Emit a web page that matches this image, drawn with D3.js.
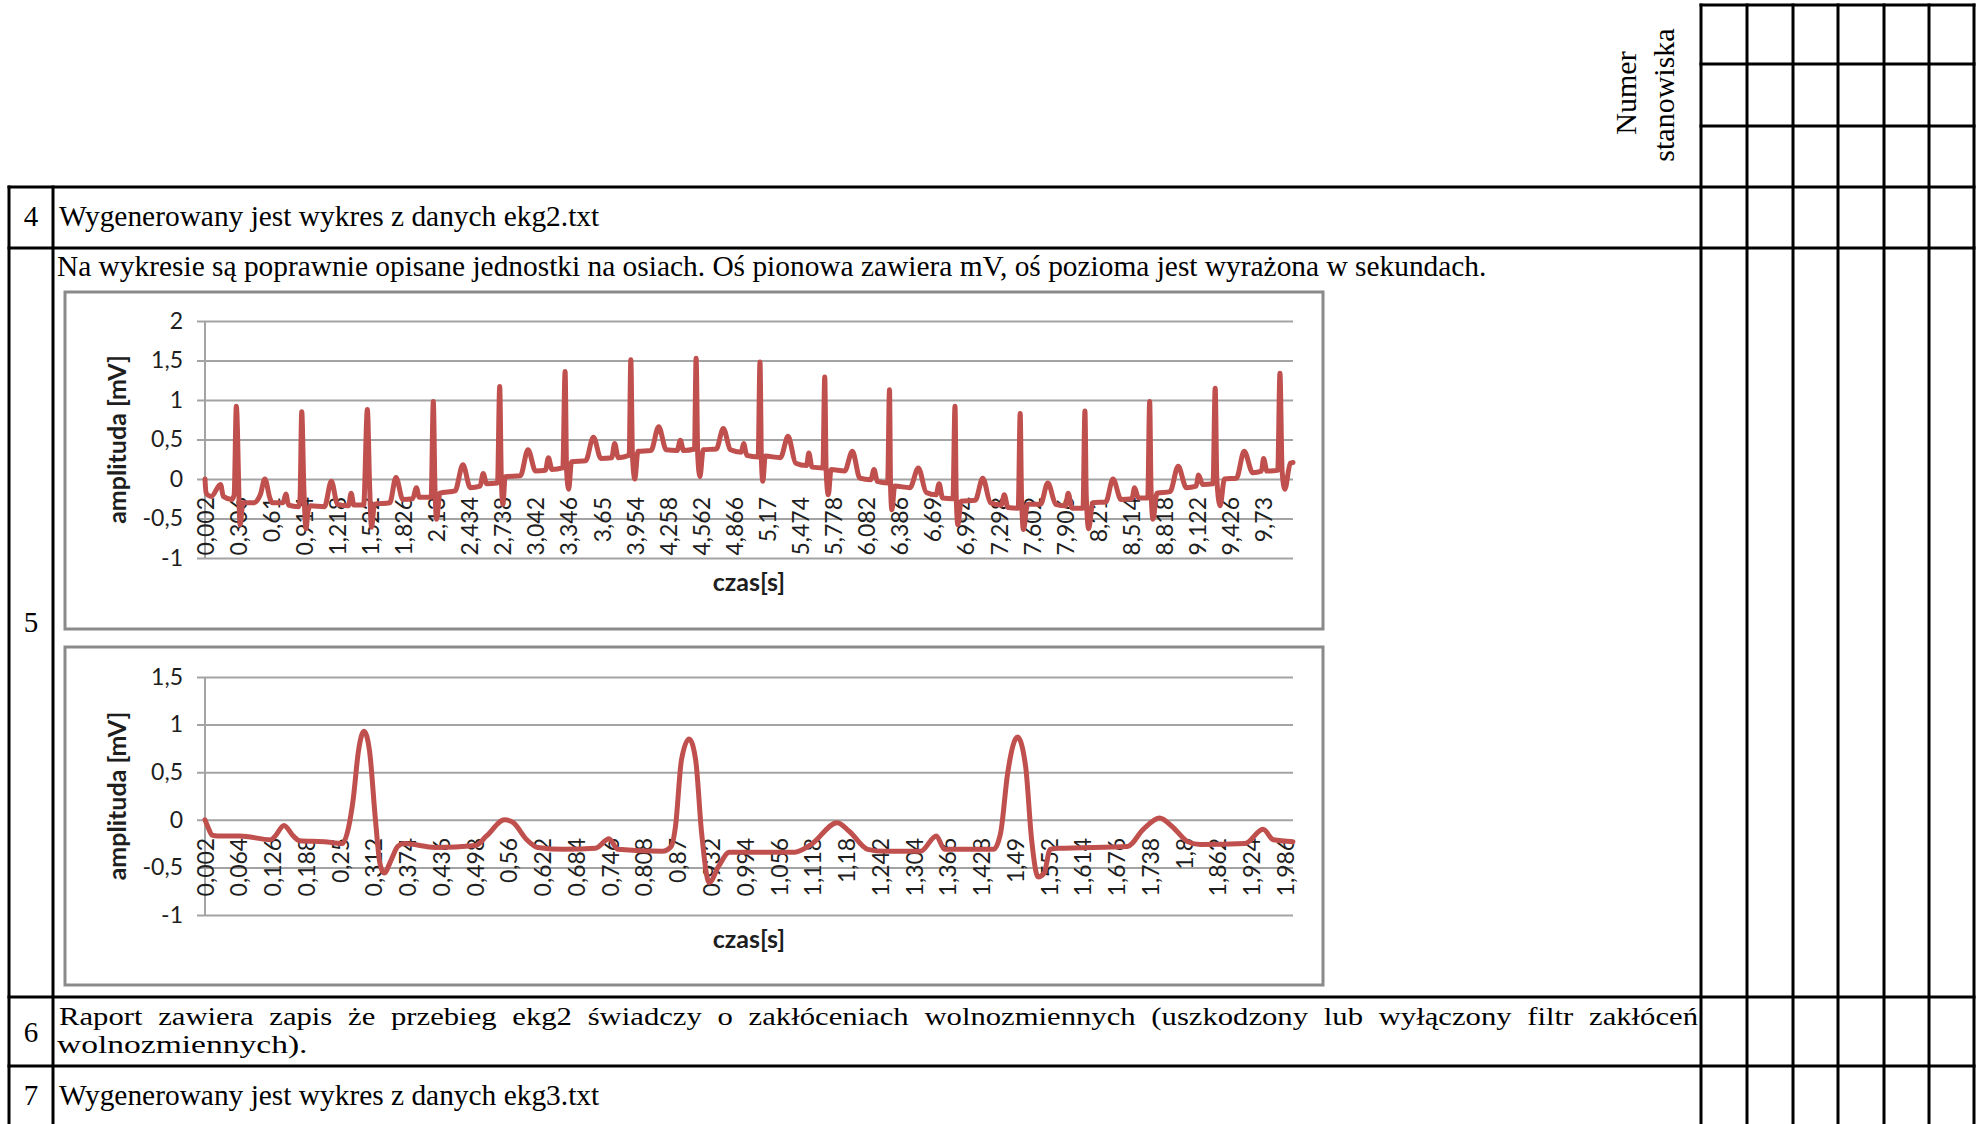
<!DOCTYPE html>
<html>
<head>
<meta charset="utf-8">
<script src="https://cdn.jsdelivr.net/npm/d3@7"></script>
<style>
  body { margin: 0; background: #fff; }
  svg { display: block; }
</style>
</head>
<body>
<script>
// ---- data ----
// ekg2, full 10 s record (vertices of the trace)
const ekgTime = [0.002, 0.012, 0.06, 0.145, 0.17, 0.25, 0.27, 0.29, 0.325, 0.35, 0.45, 0.51, 0.552, 0.6, 0.62, 0.72, 0.745, 0.77,
  0.86, 0.875, 0.891, 0.91, 0.93, 0.95, 0.97, 1.1, 1.163, 1.22, 1.32, 1.345, 1.37, 1.46, 1.494, 1.515, 1.532, 1.56,
  1.7, 1.757, 1.82, 1.91, 1.945, 1.97, 2.08, 2.1, 2.115, 2.13, 2.16, 2.3, 2.372, 2.44, 2.53, 2.558, 2.59,
  2.69, 2.71, 2.725, 2.74, 2.76, 2.9, 2.97, 3.04, 3.13, 3.158, 3.19, 3.29, 3.311, 3.325, 3.344, 3.37,
  3.5, 3.571, 3.64, 3.74, 3.766, 3.8, 3.9, 3.915, 3.93, 3.952, 3.98, 4.1, 4.171, 4.24, 4.34, 4.37, 4.4,
  4.5, 4.515, 4.53, 4.55, 4.58, 4.7, 4.765, 4.83, 4.93, 4.952, 4.98, 5.085, 5.102, 5.115, 5.128, 5.15,
  5.29, 5.36, 5.43, 5.53, 5.551, 5.58, 5.68, 5.697, 5.71, 5.73, 5.755, 5.88, 5.951, 6.02, 6.12, 6.15, 6.18,
  6.275, 6.292, 6.302, 6.314, 6.34, 6.48, 6.557, 6.63, 6.72, 6.748, 6.78, 6.875, 6.894, 6.905, 6.92, 6.95,
  7.08, 7.149, 7.22, 7.32, 7.347, 7.38, 7.475, 7.493, 7.505, 7.523, 7.56, 7.68, 7.747, 7.82, 7.91, 7.934, 7.97,
  8.07, 8.088, 8.1, 8.122, 8.16, 8.28, 8.346, 8.42, 8.52, 8.544, 8.58, 8.665, 8.683, 8.695, 8.713, 8.75,
  8.87, 8.945, 9.02, 9.11, 9.132, 9.17, 9.265, 9.285, 9.3, 9.33, 9.37, 9.48, 9.551, 9.63, 9.71, 9.73, 9.76,
  9.86, 9.88, 9.9, 9.925, 9.975, 10.0];
const ekgAmp = [0.0, -0.18, -0.22, -0.07, -0.22, -0.26, -0.2, 0.92, -0.58, -0.3, -0.3, -0.2, 0.0, -0.25, -0.3, -0.3, -0.19, -0.33,
  -0.35, -0.25, 0.85, -0.1, -0.63, -0.4, -0.34, -0.35, -0.03, -0.32, -0.34, -0.18, -0.33, -0.33, 0.88, -0.1, -0.61, -0.32,
  -0.3, 0.02, -0.26, -0.25, -0.11, -0.23, -0.23, 0.98, -0.1, -0.51, -0.18, -0.15, 0.18, -0.11, -0.09, 0.07, -0.06,
  -0.05, 1.17, 0.0, -0.32, 0.03, 0.04, 0.37, 0.1, 0.11, 0.27, 0.12, 0.14, 1.36, 0.1, -0.13, 0.22,
  0.23, 0.53, 0.26, 0.27, 0.45, 0.27, 0.3, 1.51, 0.3, 0.0, 0.35, 0.36, 0.66, 0.37, 0.36, 0.49, 0.36,
  0.38, 1.53, 0.3, 0.03, 0.37, 0.38, 0.64, 0.37, 0.34, 0.45, 0.3, 0.28, 1.48, 0.25, -0.03, 0.29,
  0.27, 0.54, 0.2, 0.17, 0.33, 0.15, 0.14, 1.29, 0.1, -0.2, 0.12, 0.1, 0.35, 0.01, -0.01, 0.12, -0.03,
  -0.05, 1.13, -0.1, -0.39, -0.09, -0.11, 0.14, -0.17, -0.2, -0.06, -0.24, -0.25, 0.92, -0.2, -0.58, -0.28,
  -0.27, 0.01, -0.3, -0.33, -0.2, -0.36, -0.37, 0.83, -0.2, -0.64, -0.32, -0.32, -0.05, -0.32, -0.34, -0.18, -0.37,
  -0.37, 0.86, -0.2, -0.63, -0.3, -0.29, 0.0, -0.26, -0.25, -0.11, -0.24, -0.24, 0.98, -0.1, -0.51, -0.18,
  -0.16, 0.16, -0.11, -0.09, 0.05, -0.07, -0.06, 1.15, 0.0, -0.34, 0.0, 0.01, 0.35, 0.08, 0.1, 0.26, 0.1,
  0.11, 1.34, 0.1, -0.13, 0.2, 0.21];

// ekg2, first 2 s
const zoomTime = [0.002, 0.007, 0.015, 0.025, 0.066, 0.123, 0.131, 0.147, 0.164, 0.176, 0.221, 0.254, 0.266, 0.274,
  0.284, 0.294, 0.304, 0.315, 0.323, 0.331, 0.344, 0.356, 0.368, 0.425, 0.499, 0.519, 0.552, 0.568, 0.593,
  0.613, 0.662, 0.719, 0.744, 0.76, 0.842, 0.858, 0.866, 0.877, 0.891, 0.903, 0.914, 0.928, 0.945, 0.965,
  1.085, 1.115, 1.163, 1.185, 1.219, 1.249, 1.316, 1.345, 1.36, 1.45, 1.463, 1.476, 1.494, 1.509, 1.52,
  1.532, 1.543, 1.554, 1.569, 1.696, 1.725, 1.755, 1.778, 1.807, 1.83, 1.912, 1.945, 1.964, 2.0];
const zoomAmp = [0.0, -0.07, -0.16, -0.17, -0.17, -0.21, -0.17, -0.06, -0.17, -0.22, -0.23, -0.25, -0.07, 0.21,
  0.73, 0.93, 0.73, 0.0, -0.45, -0.56, -0.42, -0.28, -0.25, -0.29, -0.27, -0.17, 0.0, -0.03, -0.21,
  -0.29, -0.31, -0.3, -0.2, -0.31, -0.33, -0.28, -0.07, 0.63, 0.85, 0.63, -0.14, -0.66, -0.49, -0.34,
  -0.34, -0.26, -0.03, -0.12, -0.31, -0.33, -0.33, -0.17, -0.31, -0.31, -0.14, 0.49, 0.87, 0.56, -0.21,
  -0.6, -0.56, -0.31, -0.3, -0.28, -0.1, 0.02, -0.07, -0.23, -0.26, -0.25, -0.1, -0.21, -0.23];

// axis ticks
const yTicksFull = [-1, -0.5, 0, 0.5, 1, 1.5, 2];
const yTicksZoom = [-1, -0.5, 0, 0.5, 1, 1.5];
const xTicksFull = [0.002, 0.306, 0.61, 0.914, 1.218, 1.522, 1.826, 2.13, 2.434, 2.738, 3.042, 3.346, 3.65, 3.954,
  4.258, 4.562, 4.866, 5.17, 5.474, 5.778, 6.082, 6.386, 6.69, 6.994, 7.298, 7.602, 7.906, 8.21, 8.514, 8.818,
  9.122, 9.426, 9.73];
const xTicksZoom = [0.002, 0.064, 0.126, 0.188, 0.25, 0.312, 0.374, 0.436, 0.498, 0.56, 0.622, 0.684, 0.746, 0.808,
  0.87, 0.932, 0.994, 1.056, 1.118, 1.18, 1.242, 1.304, 1.366, 1.428, 1.49, 1.552, 1.614, 1.676, 1.738, 1.8,
  1.862, 1.924, 1.986];

// ---- page ----
const W = 1978, H = 1124;
const svg = d3.select('body').append('svg')
  .attr('width', W).attr('height', H)
  .style('background', '#fff');

const serif = '"Liberation Serif", "Times New Roman", serif';
const sans = 'Lato, "Open Sans", sans-serif';
const comma = v => String(v).replace('.', ',');

// table grid
const hLines = [[5, 1701, 1974], [64, 1701, 1974], [126, 1701, 1974], [187, 9, 1974], [248, 9, 1974], [997, 9, 1974], [1066, 9, 1974]];
const gridCols = [1701, 1747, 1793, 1838, 1884, 1929, 1974];
const vLines = [[9, 187, 1124], [53, 187, 1124]].concat(gridCols.map(x => [x, 5, 1124]));

const table = svg.append('g').attr('stroke', '#000').attr('stroke-width', 3);
table.selectAll('line.h').data(hLines).enter().append('line')
  .attr('x1', d => d[1] - 1.5).attr('x2', d => d[2] + 1.5)
  .attr('y1', d => d[0]).attr('y2', d => d[0]);
table.selectAll('line.v').data(vLines).enter().append('line')
  .attr('x1', d => d[0]).attr('x2', d => d[0])
  .attr('y1', d => d[1] - 1.5).attr('y2', d => d[2]);

// header, rotated
[['Numer', 1625, 93], ['stanowiska', 1663, 95]].forEach(([t, x, y]) => {
  svg.append('text')
    .attr('transform', `translate(${x},${y})rotate(-90)`)
    .attr('text-anchor', 'middle').attr('dy', '0.35em')
    .style('font-family', serif).style('font-size', '30px')
    .text(t);
});

const txt = (s, x, y, size, anchor) => svg.append('text')
  .attr('x', x).attr('y', y)
  .style('font-family', serif).style('font-size', size + 'px')
  .attr('text-anchor', anchor || 'start')
  .text(s);

// row 6 is set wider than tall in the scan; stretch horizontally
const wideTxt = (s, x, y, size, k) => svg.append('text')
  .attr('transform', `translate(${x},${y})scale(${k},1)`)
  .style('font-family', serif).style('font-size', size + 'px')
  .text(s);

// justify a line by widening only the word gaps
const justify = (t, width) => {
  const natural = t.node().getComputedTextLength();
  const gaps = t.text().split(' ').length - 1;
  if (gaps > 0 && natural < width) t.style('word-spacing', ((width - natural) / gaps) + 'px');
};

txt('4', 31, 226, 29, 'middle');
txt('Wygenerowany jest wykres z danych ekg2.txt', 59, 226, 29.4);
txt('Na wykresie są poprawnie opisane jednostki na osiach. Oś pionowa zawiera mV, oś pozioma jest wyrażona w sekundach.', 57, 276, 29.4);
txt('5', 31, 632, 29, 'middle');
txt('6', 31, 1042, 29, 'middle');
justify(wideTxt('Raport zawiera zapis że przebieg ekg2 świadczy o zakłóceniach wolnozmiennych (uszkodzony lub wyłączony filtr zakłóceń', 59, 1025, 26, 1.18), 1639 / 1.18);
wideTxt('wolnozmiennych).', 57, 1053, 26, 1.29);
txt('7', 31, 1105, 29, 'middle');
txt('Wygenerowany jest wykres z danych ekg3.txt', 59, 1105, 29.4);

// ---- charts ----
function drawChart(cfg) {
  const g = svg.append('g');

  g.append('rect')
    .attr('x', cfg.frame[0]).attr('y', cfg.frame[1])
    .attr('width', cfg.frame[2]).attr('height', cfg.frame[3])
    .attr('fill', '#fff').attr('stroke', '#8a8a8a').attr('stroke-width', 3);

  const x = d3.scaleLinear().domain(cfg.xDomain).range([cfg.left, cfg.right]);
  const y = d3.scaleLinear().domain(cfg.yDomain).range([cfg.bottom, cfg.top]);

  // value axis + gridlines
  const yAxis = d3.axisLeft(y)
    .tickValues(cfg.yTicks)
    .tickSize(-(cfg.right - cfg.left + 8))
    .tickPadding(14)
    .tickFormat(comma);

  const ya = g.append('g')
    .attr('transform', `translate(${cfg.left - 8},0)`)
    .call(yAxis);
  ya.select('.domain').remove();
  ya.selectAll('.tick line').attr('stroke', '#a3a3a3').attr('stroke-width', 2);
  ya.selectAll('.tick text')
    .style('font-family', sans).style('font-size', '23px').attr('fill', '#1e1e1e');

  g.append('line')
    .attr('x1', cfg.left).attr('x2', cfg.left)
    .attr('y1', cfg.top).attr('y2', cfg.bottom)
    .attr('stroke', '#a3a3a3').attr('stroke-width', 2);

  // category axis, crossing at 0, labels rotated
  const xAxis = d3.axisBottom(x)
    .tickValues(cfg.xTicks)
    .tickSize(0)
    .tickFormat(comma);

  const xa = g.append('g')
    .attr('transform', `translate(0,${y(0)})`)
    .call(xAxis);
  xa.select('.domain').remove();
  xa.selectAll('.tick text')
    .attr('transform', 'rotate(-90)')
    .attr('x', -18).attr('y', 0).attr('dy', '0.35em')
    .attr('text-anchor', 'end')
    .style('font-family', sans).style('font-size', '23px').attr('fill', '#1e1e1e');

  // axis titles
  g.append('text')
    .attr('transform', `translate(${cfg.left - 88},${(cfg.top + cfg.bottom) / 2})rotate(-90)`)
    .attr('text-anchor', 'middle').attr('dy', '0.35em')
    .style('font-family', sans).style('font-size', '25px').style('font-weight', 'bold')
    .attr('fill', '#1e1e1e')
    .text('amplituda [mV]');

  g.append('text')
    .attr('x', (cfg.left + cfg.right) / 2).attr('y', cfg.bottom + 24)
    .attr('text-anchor', 'middle').attr('dy', '0.35em')
    .style('font-family', sans).style('font-size', '25px').style('font-weight', 'bold')
    .attr('fill', '#1e1e1e')
    .text('czas[s]');

  // trace
  const pts = d3.zip(cfg.times, cfg.values);
  const line = d3.line()
    .x(d => x(d[0]))
    .y(d => y(d[1]))
    .curve(d3.curveMonotoneX);

  g.append('path')
    .datum(pts)
    .attr('d', line)
    .attr('fill', 'none')
    .attr('stroke', '#c0504d')
    .attr('stroke-width', 5)
    .attr('stroke-linejoin', 'round')
    .attr('stroke-linecap', 'round');
}

drawChart({
  frame: [65, 292, 1258, 337],
  left: 205, right: 1293, top: 321, bottom: 558,
  xDomain: [0.002, 10.0], yDomain: [-1, 2],
  xTicks: xTicksFull, yTicks: yTicksFull,
  times: ekgTime, values: ekgAmp
});

drawChart({
  frame: [65, 647, 1258, 338],
  left: 205, right: 1293, top: 677, bottom: 915,
  xDomain: [0.002, 2.0], yDomain: [-1, 1.5],
  xTicks: xTicksZoom, yTicks: yTicksZoom,
  times: zoomTime, values: zoomAmp
});
</script>
</body>
</html>
